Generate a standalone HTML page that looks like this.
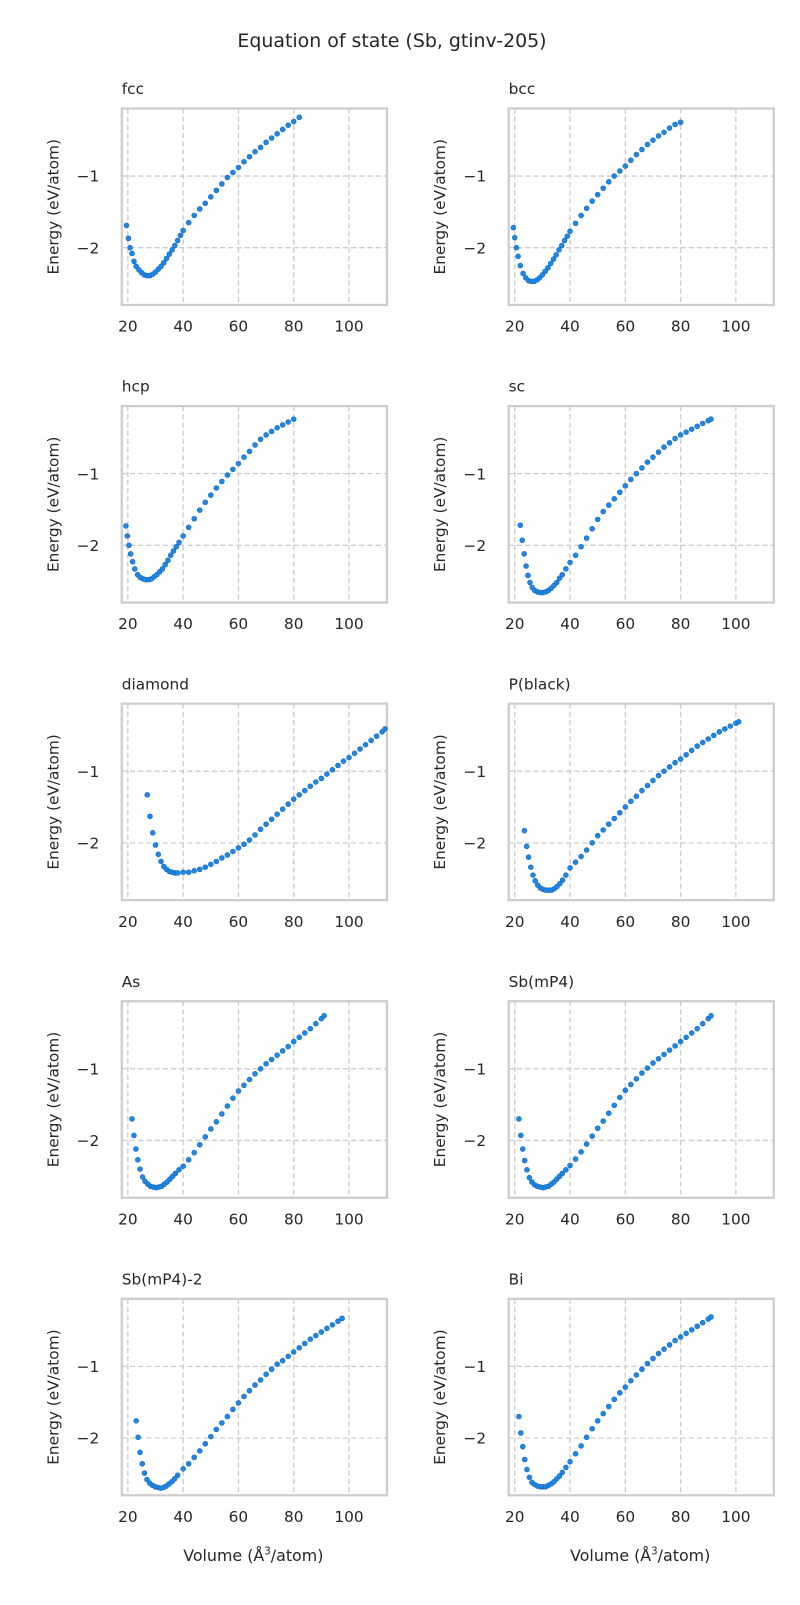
<!DOCTYPE html>
<html><head><meta charset="utf-8"><style>
body{margin:0;background:#fff;}
svg text{font-family:"DejaVu Sans","Liberation Sans",sans-serif;fill:#262626;}
</style></head><body>
<svg width="800" height="1600" viewBox="0 0 800 1600" xmlns="http://www.w3.org/2000/svg">
<rect width="800" height="1600" fill="#fff"/>
<g id="fig" transform="scale(1.0235)">
<text x="383" y="46" font-size="18.5" text-anchor="middle">Equation of state (Sb, gtinv-205)</text>
</g>
</svg>
<script>
const panelNames = ["fcc","bcc","hcp","sc","diamond","P(black)","As","Sb(mP4)","Sb(mP4)-2","Bi"];
const xTicks = [20,40,60,80,100];
const yTicks = [-1,-2];
const fcc = [[19.5,-1.69],[20.2,-1.87],[20.8,-2.0],[21.5,-2.08],[22.2,-2.19],[23,-2.26],[24,-2.31],[25,-2.35],[26,-2.38],[27,-2.39],[28,-2.39],[29,-2.37],[30,-2.34],[31,-2.3],[32,-2.26],[33,-2.21],[34,-2.15],[35,-2.09],[36,-2.03],[37,-1.97],[38,-1.9],[39,-1.83],[40,-1.76],[42,-1.65],[44,-1.55],[46,-1.46],[48,-1.38],[50,-1.29],[52,-1.2],[54,-1.11],[56,-1.02],[58,-0.95],[60,-0.88],[62,-0.8],[64,-0.73],[66,-0.66],[68,-0.6],[70,-0.53],[72,-0.47],[74,-0.41],[76,-0.35],[78,-0.29],[80,-0.24],[82,-0.18]];
const bcc = [[19.5,-1.72],[20,-1.86],[20.6,-2.0],[21.2,-2.12],[22,-2.25],[23,-2.36],[24,-2.42],[25,-2.46],[26,-2.47],[27,-2.47],[28,-2.45],[29,-2.42],[30,-2.38],[31,-2.33],[32,-2.28],[33,-2.22],[34,-2.16],[35,-2.1],[36,-2.03],[37,-1.97],[38,-1.9],[39,-1.84],[40,-1.77],[42,-1.66],[44,-1.55],[46,-1.45],[48,-1.35],[50,-1.26],[52,-1.17],[54,-1.08],[56,-1.0],[58,-0.93],[60,-0.86],[62,-0.78],[64,-0.7],[66,-0.63],[68,-0.56],[70,-0.5],[72,-0.44],[74,-0.39],[76,-0.33],[78,-0.28],[80,-0.25]];
const hcp = [[19.3,-1.73],[19.8,-1.87],[20.4,-2.0],[21,-2.12],[21.7,-2.23],[22.5,-2.33],[23.5,-2.41],[24.5,-2.45],[25.5,-2.47],[26.5,-2.48],[27.5,-2.48],[28.5,-2.47],[29.5,-2.44],[30.5,-2.41],[31.5,-2.37],[32.5,-2.33],[33.5,-2.27],[34.5,-2.21],[35.5,-2.14],[36.5,-2.08],[37.5,-2.02],[38.5,-1.96],[40,-1.87],[42,-1.75],[44,-1.63],[46,-1.51],[48,-1.4],[50,-1.3],[52,-1.2],[54,-1.11],[56,-1.02],[58,-0.94],[60,-0.86],[62,-0.77],[64,-0.69],[66,-0.6],[68,-0.52],[70,-0.46],[72,-0.41],[74,-0.36],[76,-0.32],[78,-0.28],[80,-0.24]];
const sc = [[22,-1.72],[22.7,-1.93],[23.4,-2.12],[24.1,-2.29],[24.8,-2.42],[25.5,-2.52],[26.3,-2.59],[27.2,-2.63],[28.2,-2.65],[29.2,-2.66],[30.2,-2.66],[31.2,-2.65],[32.2,-2.63],[33.2,-2.6],[34.2,-2.56],[35.2,-2.52],[36.2,-2.46],[37.2,-2.41],[38.5,-2.33],[40,-2.24],[42,-2.14],[44,-2.02],[46,-1.9],[48,-1.77],[50,-1.64],[52,-1.53],[54,-1.44],[56,-1.35],[58,-1.26],[60,-1.17],[62,-1.08],[64,-1.0],[66,-0.92],[68,-0.84],[70,-0.77],[72,-0.7],[74,-0.63],[76,-0.57],[78,-0.51],[80,-0.46],[82,-0.42],[84,-0.38],[86,-0.34],[88,-0.3],[90,-0.26],[91,-0.24]];
const diamond = [[27,-1.33],[28,-1.63],[29,-1.86],[30,-2.03],[31,-2.16],[32,-2.26],[33,-2.33],[34,-2.37],[35,-2.4],[36,-2.41],[37,-2.42],[38,-2.42],[40,-2.41],[42,-2.41],[44,-2.39],[46,-2.37],[48,-2.34],[50,-2.3],[52,-2.26],[54,-2.21],[56,-2.17],[58,-2.12],[60,-2.07],[62,-2.02],[64,-1.96],[66,-1.89],[68,-1.81],[70,-1.74],[72,-1.67],[74,-1.6],[76,-1.53],[78,-1.46],[80,-1.39],[82,-1.33],[84,-1.27],[86,-1.21],[88,-1.15],[90,-1.1],[92,-1.04],[94,-0.98],[96,-0.92],[98,-0.86],[100,-0.81],[102,-0.75],[104,-0.69],[106,-0.63],[108,-0.57],[110,-0.51],[112,-0.45],[113,-0.41]];
const pblack = [[23.5,-1.83],[24.3,-2.05],[25,-2.2],[25.8,-2.34],[26.6,-2.45],[27.4,-2.53],[28.3,-2.59],[29.3,-2.63],[30.3,-2.65],[31.3,-2.66],[32.3,-2.66],[33.3,-2.66],[34.3,-2.64],[35.3,-2.61],[36.3,-2.57],[37.3,-2.52],[38.5,-2.45],[40,-2.35],[42,-2.27],[44,-2.19],[46,-2.1],[48,-2.0],[50,-1.9],[52,-1.82],[54,-1.74],[56,-1.66],[58,-1.58],[60,-1.5],[62,-1.42],[64,-1.35],[66,-1.27],[68,-1.2],[70,-1.13],[72,-1.06],[74,-1.0],[76,-0.94],[78,-0.88],[80,-0.83],[82,-0.77],[84,-0.71],[86,-0.65],[88,-0.6],[90,-0.55],[92,-0.5],[94,-0.45],[96,-0.41],[98,-0.37],[100,-0.33],[101,-0.31]];
const as = [[21.5,-1.7],[22.2,-1.93],[22.9,-2.12],[23.6,-2.27],[24.4,-2.4],[25.3,-2.51],[26.2,-2.57],[27.2,-2.61],[28.2,-2.64],[29.2,-2.65],[30.2,-2.66],[31.2,-2.65],[32.2,-2.64],[33.2,-2.61],[34.2,-2.58],[35.2,-2.54],[36.2,-2.5],[37.2,-2.46],[38.5,-2.41],[40,-2.36],[42,-2.27],[44,-2.17],[46,-2.06],[48,-1.95],[50,-1.84],[52,-1.74],[54,-1.63],[56,-1.52],[58,-1.41],[60,-1.31],[62,-1.23],[64,-1.15],[66,-1.07],[68,-1.0],[70,-0.93],[72,-0.87],[74,-0.81],[76,-0.75],[78,-0.69],[80,-0.62],[82,-0.56],[84,-0.5],[86,-0.44],[88,-0.37],[90,-0.3],[91,-0.26]];
const sbmp4 = [[21.5,-1.7],[22.2,-1.93],[22.9,-2.12],[23.6,-2.28],[24.4,-2.41],[25.3,-2.52],[26.2,-2.58],[27.2,-2.62],[28.2,-2.64],[29.2,-2.65],[30.2,-2.66],[31.2,-2.65],[32.2,-2.64],[33.2,-2.61],[34.2,-2.58],[35.2,-2.54],[36.2,-2.5],[37.2,-2.46],[38.5,-2.41],[40,-2.35],[42,-2.26],[44,-2.16],[46,-2.05],[48,-1.94],[50,-1.83],[52,-1.73],[54,-1.62],[56,-1.51],[58,-1.4],[60,-1.3],[62,-1.22],[64,-1.14],[66,-1.06],[68,-0.99],[70,-0.92],[72,-0.86],[74,-0.8],[76,-0.74],[78,-0.68],[80,-0.62],[82,-0.56],[84,-0.5],[86,-0.44],[88,-0.37],[90,-0.3],[91,-0.26]];
const sbmp42 = [[23,-1.76],[23.7,-1.99],[24.4,-2.2],[25.2,-2.36],[26,-2.49],[26.9,-2.58],[27.9,-2.63],[28.9,-2.66],[29.9,-2.68],[30.9,-2.69],[31.9,-2.7],[32.9,-2.69],[33.9,-2.67],[34.9,-2.64],[35.9,-2.61],[36.9,-2.57],[38,-2.52],[40,-2.43],[42,-2.36],[44,-2.27],[46,-2.18],[48,-2.08],[50,-1.98],[52,-1.88],[54,-1.79],[56,-1.7],[58,-1.6],[60,-1.51],[62,-1.42],[64,-1.34],[66,-1.26],[68,-1.19],[70,-1.11],[72,-1.04],[74,-0.97],[76,-0.92],[78,-0.86],[80,-0.8],[82,-0.74],[84,-0.68],[86,-0.62],[88,-0.57],[90,-0.52],[92,-0.47],[94,-0.42],[96,-0.37],[97.5,-0.33]];
const bi = [[21.5,-1.7],[22.2,-1.93],[22.9,-2.12],[23.6,-2.3],[24.4,-2.44],[25.3,-2.55],[26.2,-2.62],[27.2,-2.65],[28.2,-2.67],[29.2,-2.68],[30.2,-2.68],[31.2,-2.68],[32.2,-2.66],[33.2,-2.64],[34.2,-2.61],[35.2,-2.57],[36.2,-2.53],[37.2,-2.48],[38.5,-2.41],[40,-2.33],[42,-2.22],[44,-2.11],[46,-1.99],[48,-1.87],[50,-1.76],[52,-1.66],[54,-1.56],[56,-1.46],[58,-1.37],[60,-1.29],[62,-1.2],[64,-1.12],[66,-1.04],[68,-0.96],[70,-0.89],[72,-0.82],[74,-0.76],[76,-0.7],[78,-0.64],[80,-0.59],[82,-0.54],[84,-0.49],[86,-0.44],[88,-0.39],[90,-0.34],[91,-0.31]];
const seriesList = [fcc,bcc,hcp,sc,diamond,pblack,as,sbmp4,sbmp42,bi];

const NS = "http://www.w3.org/2000/svg";
const svg = document.getElementById('fig');
const W = 259, H = 192, XMIN = 17.8, XMAX = 113.7, YTOP = -0.057, YBOT = -2.8;
function mk(tag, attrs, parent){const e=document.createElementNS(NS,tag);for(const k in attrs)e.setAttribute(k,attrs[k]);(parent||svg).appendChild(e);return e;}
panelNames.forEach((name,i)=>{
  const col = i%2, row = Math.floor(i/2);
  const x0 = col===0?119:497, y0 = 106 + row*290.75;
  const sx = v => x0 + (v-XMIN)/(XMAX-XMIN)*W;
  const sy = e => y0 + (YTOP-e)/(YTOP-YBOT)*H;
  const g = mk('g',{});
  
  
  xTicks.forEach(t=>{
    const l = mk('line',{x1:sx(t),x2:sx(t),y1:y0,y2:y0+H,stroke:'#cccccc','stroke-width':1.3,'stroke-dasharray':'5,3'},g);
    
    
    const tx = mk('text',{x:sx(t),y:y0+H+26,'font-size':15,'text-anchor':'middle'},g);
    
    
    tx.textContent = t;
  });
  yTicks.forEach(t=>{
    const l = mk('line',{x1:x0,x2:x0+W,y1:sy(t),y2:sy(t),stroke:'#cccccc','stroke-width':1.3,'stroke-dasharray':'5,3'},g);
    
    
    const tx = mk('text',{x:x0-22,y:sy(t)+5.5,'font-size':15,'text-anchor':'end'},g);
    
    
    tx.textContent = '\u2212'+Math.abs(t);
  });
  const fr = mk('rect',{x:x0,y:y0,width:W,height:H,fill:'none',stroke:'#cccccc','stroke-width':2.2},g);
  
  
  const tt = mk('text',{x:x0,y:y0-14,'font-size':15},g);
  
  
  tt.textContent = name;
  const yl = mk('text',{x:0,y:0,'font-size':15,'text-anchor':'middle',transform:`translate(${x0-62},${y0+H/2}) rotate(-90)`},g);
  
  
  yl.textContent = 'Energy (eV/atom)';
  if(row===4){
    const xl = mk('text',{x:x0+W/2-1,y:y0+H+64,'font-size':15.5,'text-anchor':'middle'},g);
    
    
    xl.innerHTML = 'Volume (\u00C5<tspan font-size="10" dy="-6">3</tspan><tspan dy="6">/atom)</tspan>';
  }
  seriesList[i].forEach(p=>{
    const c = mk('circle',{cx:sx(p[0]),cy:sy(p[1]),r:2.4,fill:'#1e88e5',stroke:'#1565c0','stroke-width':0.6},g);
    
    
  });
});
</script>
</body></html>
